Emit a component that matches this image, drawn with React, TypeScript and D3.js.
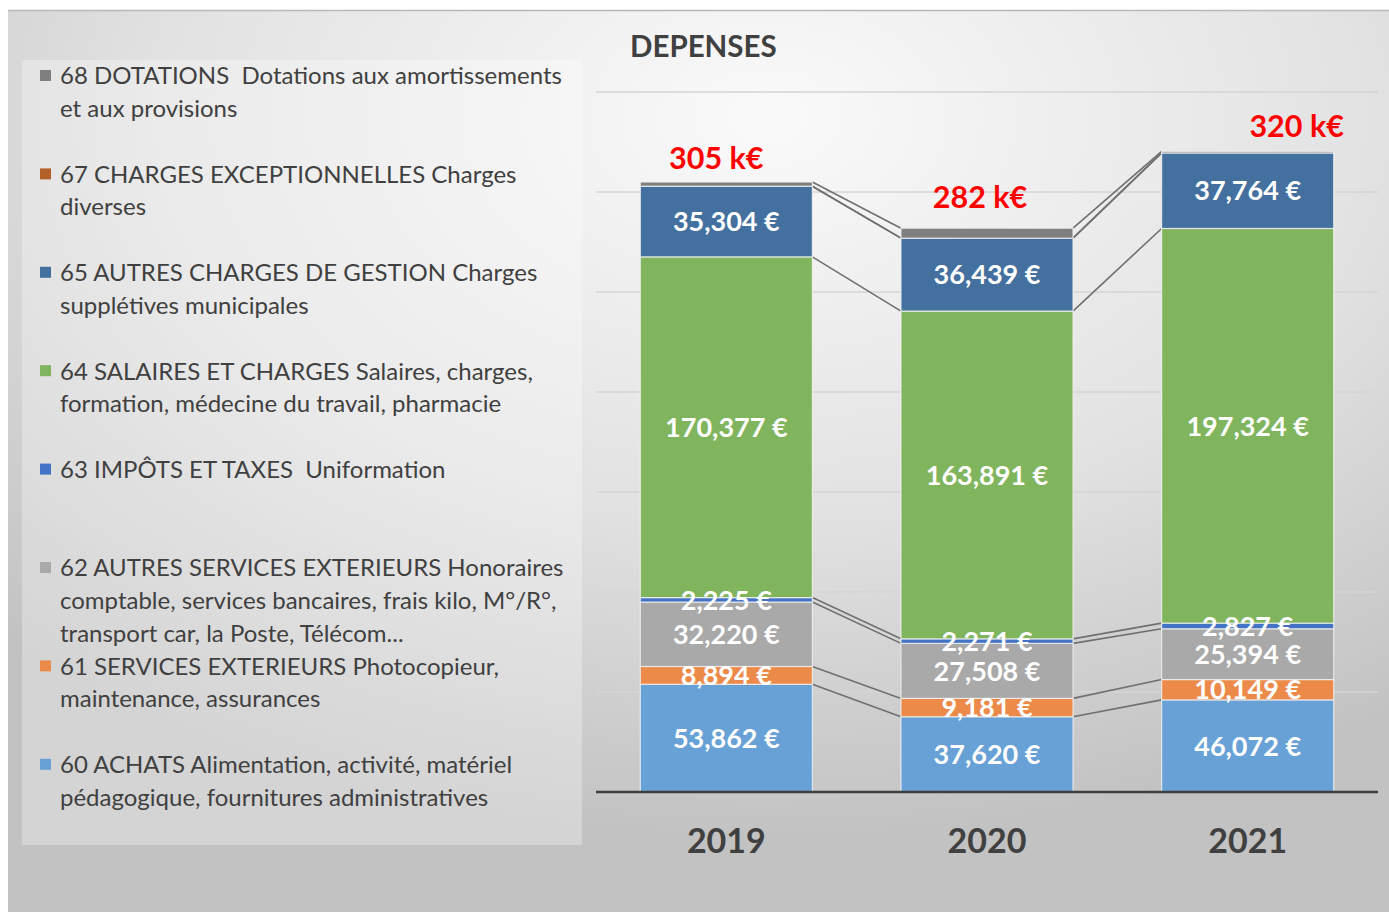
import React from "react";
import * as d3 from "d3";

const categories = ["2019", "2020", "2021"];
const seriesKeys = ["60", "61", "62", "63", "64", "65", "67", "68"];
const v60 = [53862, 37620, 46072];
const v61 = [8894, 9181, 10149];
const v62 = [32220, 27508, 25394];
const v63 = [2225, 2271, 2827];
const v64 = [170377, 163891, 197324];
const v65 = [35304, 36439, 37764];
const v67 = [0, 0, 0];
const v68 = [2100, 5000, 800];
const labelled = ["60", "61", "62", "63", "64", "65"];
const legendOrder = ["68", "67", "65", "64", "63", "62", "61", "60"];
const legendLines: Record<string, string[]> = {
  "68": ["68 DOTATIONS  Dotations aux amortissements", "et aux provisions"],
  "67": ["67 CHARGES EXCEPTIONNELLES Charges", "diverses"],
  "65": ["65 AUTRES CHARGES DE GESTION Charges", "supplétives municipales"],
  "64": ["64 SALAIRES ET CHARGES Salaires, charges,", "formation, médecine du travail, pharmacie"],
  "63": ["63 IMPÔTS ET TAXES  Uniformation"],
  "62": ["62 AUTRES SERVICES EXTERIEURS Honoraires", "comptable, services bancaires, frais kilo, M°/R°,", "transport car, la Poste, Télécom..."],
  "61": ["61 SERVICES EXTERIEURS Photocopieur,", "maintenance, assurances"],
  "60": ["60 ACHATS Alimentation, activité, matériel", "pédagogique, fournitures administratives"],
};
const colors: Record<string, string> = {
  "60": "#68a1d6",
  "61": "#ec8a4a",
  "62": "#a9a9a9",
  "63": "#4472c4",
  "64": "#80b55e",
  "65": "#43709e",
  "67": "#b3602a",
  "68": "#7f7f7f",
};
const gridTicks = [50000, 100000, 150000, 200000, 250000, 300000, 350000];
const totalOffsets = [[-10, -24], [-7, -31], [49, -25]];

const rows = categories.map((c, i) => ({
  cat: c,
  "60": v60[i], "61": v61[i], "62": v62[i], "63": v63[i],
  "64": v64[i], "65": v65[i], "67": v67[i], "68": v68[i],
}));

const W = 1389, H = 912;
const FONT = "Lato, 'Open Sans', sans-serif";

export default function App() {
  const x = d3.scaleBand<string>().domain(categories).range([596, 1378]).paddingInner(0.34).paddingOuter(0.17);
  const y = d3.scaleLinear().domain([0, 350000]).range([792, 92]);
  const stack = d3.stack<any>().keys(seriesKeys);
  const series = stack(rows as any);
  const bw = x.bandwidth();
  const fmt = d3.format(",");

  const totals = rows.map((r: any) => d3.sum(seriesKeys, (k) => r[k]));

  return (
    <svg width={W} height={H} style={{ position: "absolute", left: 0, top: 0, fontFamily: FONT }}>
      <defs>
        <radialGradient id="bg" cx="0.55" cy="0.12" r="0.8" fx="0.55" fy="0.12">
          <stop offset="0" stopColor="#fafafa" />
          <stop offset="0.55" stopColor="#e2e2e2" />
          <stop offset="1" stopColor="#c2c2c2" />
        </radialGradient>
      </defs>
      <rect x={0} y={0} width={W} height={H} fill="#ffffff" />
      <rect x={8} y={10} width={W - 8} height={H - 10} fill="url(#bg)" />
      <line x1={8} x2={W} y1={10.5} y2={10.5} stroke="#b8b8b8" strokeWidth={1.5} />

      {/* legend box */}
      <rect x={22} y={60} width={560} height={785} fill="#ffffff" fillOpacity={0.3} />
      {legendOrder.map((k, i) => {
        const y0 = 76 + i * 98.4;
        return (
          <g key={k}>
            <rect x={40} y={y0 - 6} width={11} height={11} fill={colors[k]} />
            {legendLines[k].map((t, j) => (
              <text key={j} x={60} y={y0 + j * 32.6} dy="0.35em" fontSize={24} fill="#404040" style={{ whiteSpace: "pre" }}>{t}</text>
            ))}
          </g>
        );
      })}

      {/* title */}
      <text x={630} y={47} dy="0.35em" fontSize={29.5} fontWeight={700} fill="#404040">DEPENSES</text>

      {/* gridlines */}
      {gridTicks.map((t) => (
        <line key={t} x1={596} x2={1378} y1={y(t)} y2={y(t)} stroke="#d4d4d4" strokeWidth={1.3} />
      ))}

      {/* series lines */}
      {series.map((s) =>
        categories.slice(0, -1).map((c, i) => (
          <line
            key={s.key + c}
            x1={(x(c) as number) + bw}
            y1={y(s[i][1])}
            x2={x(categories[i + 1]) as number}
            y2={y(s[i + 1][1])}
            stroke="#707070"
            strokeWidth={1.6}
          />
        ))
      )}

      {/* bars */}
      {series.map((s) => (
        <g key={s.key} fill={colors[s.key]}>
          {s.map((d, i) =>
            d[1] - d[0] > 0 ? (
              <rect
                key={i}
                x={x(categories[i])}
                y={y(d[1])}
                width={bw}
                height={y(d[0]) - y(d[1])}
                stroke="#f2f2f2"
                strokeOpacity={0.8}
                strokeWidth={1.2}
              />
            ) : null
          )}
        </g>
      ))}

      {/* value labels */}
      {series.filter((s) => labelled.includes(s.key)).map((s) =>
        s.map((d, i) => (
          <text
            key={s.key + i}
            x={(x(categories[i]) as number) + bw / 2}
            y={(y(d[0]) + y(d[1])) / 2}
            dy="0.36em"
            textAnchor="middle"
            fontSize={27}
            fontWeight={700}
            fill="#ffffff"
          >
            {fmt(d[1] - d[0]) + " €"}
          </text>
        ))
      )}

      {/* totals */}
      {categories.map((c, i) => (
        <text
          key={c}
          x={(x(c) as number) + bw / 2 + totalOffsets[i][0]}
          y={y(totals[i]) + totalOffsets[i][1]}
          dy="0.36em"
          textAnchor="middle"
          fontSize={30.5}
          fontWeight={700}
          fill="#ff0000"
        >
          {Math.round(totals[i] / 1000) + " k€"}
        </text>
      ))}

      {/* axis */}
      <line x1={596} x2={1378} y1={792} y2={792} stroke="#3f3f3f" strokeWidth={2.5} />
      {categories.map((c) => (
        <text
          key={c}
          x={(x(c) as number) + bw / 2}
          y={841}
          dy="0.36em"
          textAnchor="middle"
          fontSize={34}
          fontWeight={700}
          fill="#404040"
        >
          {c}
        </text>
      ))}
    </svg>
  );
}
